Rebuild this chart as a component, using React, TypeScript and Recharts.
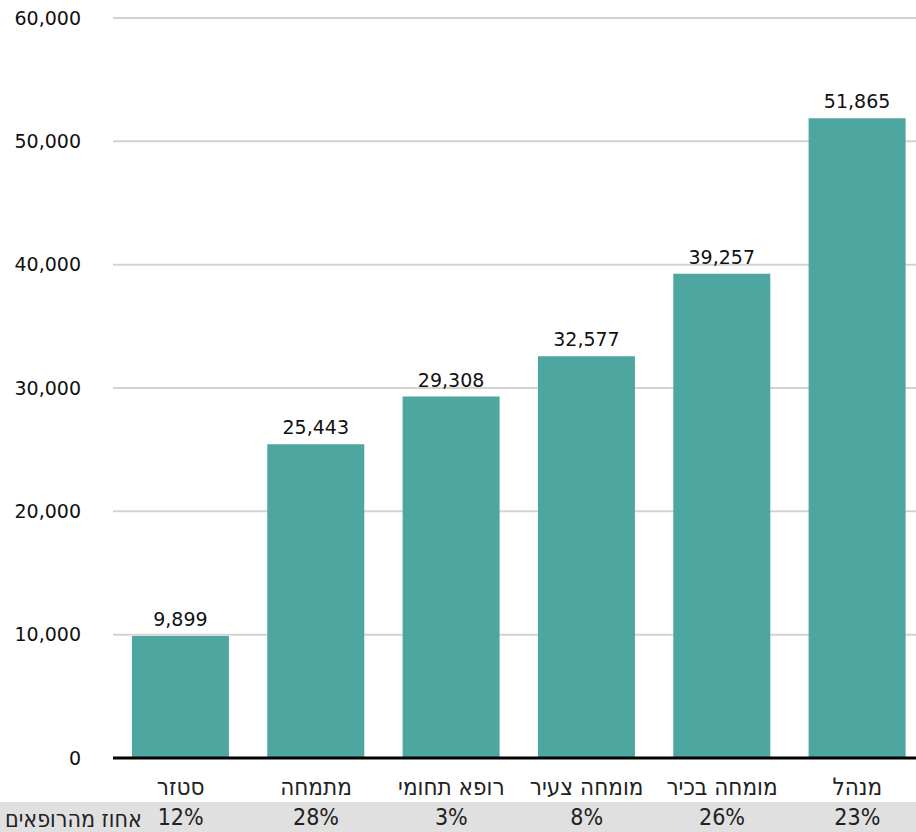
import { BarChart, Bar, XAxis, YAxis, CartesianGrid, LabelList } from "recharts";

const roles = ["סטזר", "מתמחה", "רופא תחומי", "מומחה צעיר", "מומחה בכיר", "מנהל"];
const salaries = [9899, 25443, 29308, 32577, 39257, 51865];
const shares = ["12%", "28%", "3%", "8%", "26%", "23%"];
const yTicks = [0, 10000, 20000, 30000, 40000, 50000, 60000];
const shareTitle = "אחוז מהרופאים";

const data = roles.map((role, i) => ({ role, salary: salaries[i], share: shares[i] }));

const numFont = "'DejaVu Sans', sans-serif";
const hebFont = "'DejaVu Sans Condensed', 'DejaVu Sans', sans-serif";
const fmt = (v: number) => v.toLocaleString("en-US");

export default function App() {
  return (
    <div style={{ position: "fixed", left: 0, top: 0, width: 916, height: 832, overflow: "hidden", background: "#fff" }}>
      <div style={{ position: "absolute", left: 0, top: 802, width: 916, height: 30, background: "#e0e0e0" }} />
      <div
        dir="rtl"
        style={{ position: "absolute", left: 5, top: 805, height: 28, lineHeight: "28px", fontFamily: hebFont, fontSize: 23, color: "#222" }}
      >
        {shareTitle}
      </div>
      <div style={{ position: "absolute", left: 0, top: 0 }}>
        <BarChart width={940} height={832} data={data} margin={{ top: 18, right: 15, bottom: 0, left: 0 }} barCategoryGap="14%">
          <CartesianGrid xAxisId="cat" vertical={false} stroke="#d3d3d3" strokeWidth={2} />
          <XAxis
            xAxisId="cat"
            dataKey="role"
            height={44}
            tickLine={false}
            axisLine={{ stroke: "#000", strokeWidth: 3 }}
            tickMargin={14}
            interval={0}
            tick={{ fontFamily: hebFont, fontSize: 24, fill: "#222" }}
          />
          <XAxis
            xAxisId="pct"
            dataKey="share"
            height={30}
            tickLine={false}
            axisLine={false}
            tickMargin={1}
            interval={0}
            tick={{ fontFamily: hebFont, fontSize: 23, fill: "#222" }}
          />
          <YAxis
            width={113}
            domain={[0, 60000]}
            ticks={yTicks}
            tickFormatter={fmt}
            axisLine={false}
            tickLine={false}
            tickMargin={26}
            tick={{ fontFamily: numFont, fontSize: 19, fill: "#111" }}
          />
          <Bar xAxisId="cat" dataKey="salary" fill="#4da69f" isAnimationActive={false}>
            <LabelList
              dataKey="salary"
              position="top"
              offset={10}
              formatter={(v: any) => fmt(Number(v))}
              style={{ fontFamily: numFont, fontSize: 19, fill: "#111" }}
            />
          </Bar>
        </BarChart>
      </div>
    </div>
  );
}
